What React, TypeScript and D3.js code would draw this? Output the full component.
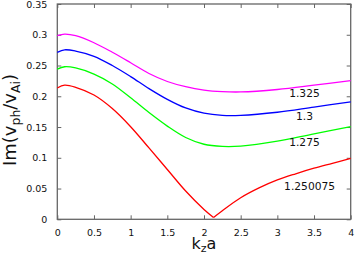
import React, { useEffect, useRef } from 'react';
import * as d3 from 'd3';

// k_z a samples for each curve
const kMain = [0, 0.1, 0.25, 0.5, 0.75, 1.0, 1.25, 1.5, 1.75, 2.0, 2.25, 2.5, 3.0, 3.5, 4.0];
const im1325 = [0.2985, 0.301, 0.2985, 0.287, 0.2715, 0.2545, 0.237, 0.224, 0.2155, 0.21, 0.2075, 0.207, 0.211, 0.218, 0.2255];
const im13 = [0.2715, 0.2755, 0.2735, 0.265, 0.25, 0.232, 0.2125, 0.195, 0.181, 0.1725, 0.169, 0.169, 0.174, 0.1825, 0.191];
const im1275 = [0.244, 0.248, 0.246, 0.236, 0.22, 0.1975, 0.1735, 0.1515, 0.133, 0.122, 0.1185, 0.119, 0.127, 0.139, 0.1505];

// red curve has a cusp near k_z a = 2.13, drawn as two branches
const kRedLeft = [0, 0.1, 0.25, 0.5, 0.75, 1.0, 1.25, 1.5, 1.75, 2.0, 2.13];
const imRedLeft = [0.2135, 0.218, 0.2145, 0.202, 0.18, 0.1505, 0.116, 0.081, 0.046, 0.016, 0.003];
const kRedRight = [2.13, 2.25, 2.5, 2.75, 3.0, 3.25, 3.5, 3.75, 4.0];
const imRedRight = [0.003, 0.014, 0.035, 0.051, 0.064, 0.074, 0.083, 0.091, 0.099];

const xTicks = [0, 0.5, 1, 1.5, 2, 2.5, 3, 3.5, 4];
const yTicks = [0, 0.05, 0.1, 0.15, 0.2, 0.25, 0.3, 0.35];

const curveLabels = ['1.325', '1.3', '1.275', '1.250075'];
const labelK = [3.37, 3.37, 3.37, 3.44];
const labelV = [0.205, 0.168, 0.126, 0.054];

const W = 355;
const H = 255;
const FONT = '"DejaVu Sans", sans-serif';

const App: React.FC = () => {
  const svgRef = useRef<SVGSVGElement>(null);

  useEffect(() => {
    if (!svgRef.current) return;
    const svg = d3.select(svgRef.current);
    svg.selectAll('*').remove();

    const left = 57.3, right = 350.7, top = 4, bottom = 219.3;
    const x = d3.scaleLinear().domain([0, 4]).range([left, right]);
    const y = d3.scaleLinear().domain([0, 0.35]).range([bottom, top]);
    const fmt = (d: d3.NumberValue) => String(+(+d).toFixed(2));
    const frame = '#666';

    const styleAxis = (g: d3.Selection<SVGGElement, unknown, null, undefined>) => {
      g.select('.domain').remove();
      g.selectAll('line').attr('stroke', frame).attr('stroke-width', 1);
      g.selectAll('text')
        .attr('fill', '#111')
        .attr('font-family', FONT)
        .attr('font-size', 9.5);
    };

    svg.append('g')
      .attr('transform', `translate(0,${bottom})`)
      .call(d3.axisBottom(x).tickValues(xTicks).tickFormat(fmt).tickSizeInner(-4).tickPadding(10))
      .call(styleAxis);
    svg.append('g')
      .attr('transform', `translate(0,${top})`)
      .call(d3.axisTop(x).tickValues(xTicks).tickFormat(() => '').tickSizeInner(-4))
      .call(styleAxis);
    svg.append('g')
      .attr('transform', `translate(${left},0)`)
      .call(d3.axisLeft(y).tickValues(yTicks).tickFormat(fmt).tickSizeInner(-4).tickPadding(10))
      .call(styleAxis);
    svg.append('g')
      .attr('transform', `translate(${right},0)`)
      .call(d3.axisRight(y).tickValues(yTicks).tickFormat(() => '').tickSizeInner(-4))
      .call(styleAxis);

    svg.append('rect')
      .attr('x', left).attr('y', top)
      .attr('width', right - left).attr('height', bottom - top)
      .attr('fill', 'none').attr('stroke', frame).attr('stroke-width', 1.3);

    const series = [
      { k: kMain, v: im1325, color: '#ff00ff' },
      { k: kMain, v: im13, color: '#0000ff' },
      { k: kMain, v: im1275, color: '#00ff00' },
      { k: kRedLeft, v: imRedLeft, color: '#ff0000' },
      { k: kRedRight, v: imRedRight, color: '#ff0000' },
    ];
    const line = d3.line<[number, number]>()
      .x(d => x(d[0]))
      .y(d => y(d[1]))
      .curve(d3.curveCatmullRom.alpha(0.5));

    series.forEach(s => {
      const pts = s.k.map((k, i) => [k, s.v[i]] as [number, number]);
      svg.append('path')
        .attr('d', line(pts))
        .attr('fill', 'none')
        .attr('stroke', s.color)
        .attr('stroke-width', 1.3)
        .attr('stroke-linejoin', 'round');
    });

    curveLabels.forEach((t, i) => {
      svg.append('text')
        .attr('x', x(labelK[i]))
        .attr('y', y(labelV[i]))
        .attr('dy', '0.36em')
        .attr('text-anchor', 'middle')
        .attr('font-family', FONT)
        .attr('font-size', 10.7)
        .attr('fill', '#111')
        .text(t);
    });

    // x axis title: k_z a
    const xt = svg.append('text')
      .attr('x', 204)
      .attr('y', 248.5)
      .attr('text-anchor', 'middle')
      .attr('font-family', FONT)
      .attr('font-size', 16)
      .attr('fill', '#111');
    xt.append('tspan').text('k');
    xt.append('tspan').attr('font-size', 11).attr('dy', 3.5).text('z');
    xt.append('tspan').attr('dy', -3.5).text('a');

    // y axis title: Im(v_ph / v_Ai)
    const yt = svg.append('text')
      .attr('transform', 'translate(16,120) rotate(-90)')
      .attr('text-anchor', 'middle')
      .attr('font-family', FONT)
      .attr('font-size', 18)
      .attr('fill', '#111');
    yt.append('tspan').text('Im(v');
    yt.append('tspan').attr('font-size', 12.5).attr('dy', 4).text('ph');
    yt.append('tspan').attr('dy', -4).text('/v');
    yt.append('tspan').attr('font-size', 12.5).attr('dy', 4).text('Ai');
    yt.append('tspan').attr('dy', -4).text(')');
  }, []);

  return (
    <svg
      ref={svgRef}
      width={W}
      height={H}
      viewBox={`0 0 ${W} ${H}`}
      style={{ position: 'absolute', left: 0, top: 0, background: '#fff' }}
    />
  );
};

export default App;
